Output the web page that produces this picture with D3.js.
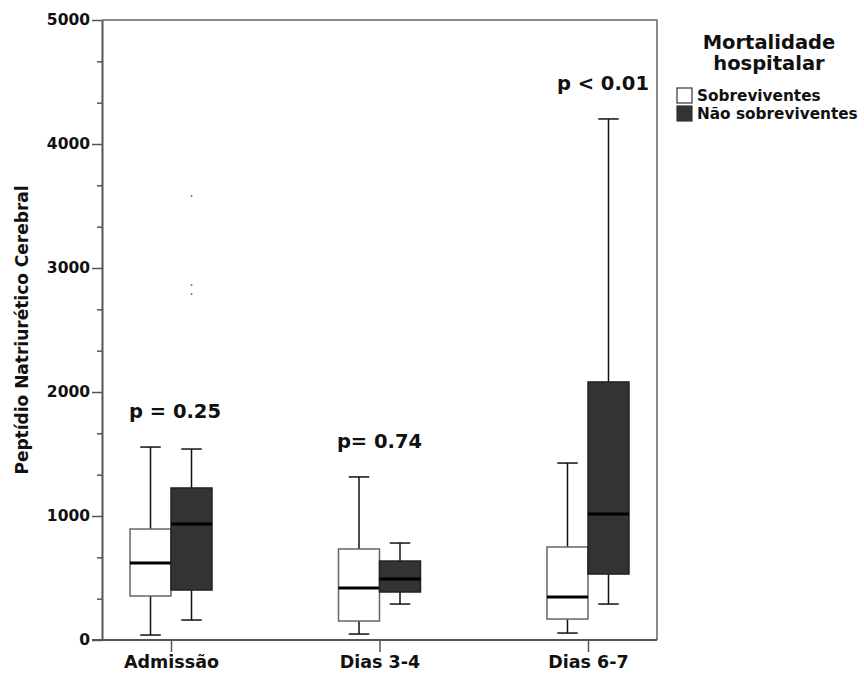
<!DOCTYPE html>
<html>
<head>
<meta charset="utf-8">
<script src="https://cdn.jsdelivr.net/npm/d3@7"></script>
<style>
    body { margin: 0; background: #fff; }
    svg text { font-family: "DejaVu Sans", sans-serif; font-weight: bold; fill: #111; }
</style>
</head>
<body>
<svg id="chart" width="864" height="674"></svg>
<script>
(function() {
"use strict";

// boxplot stats: [min whisker, Q1, median, Q3, max whisker]
var categories = ["Admissão", "Dias 3-4", "Dias 6-7"];
var groups = ["Sobreviventes", "Não sobreviventes"];
var survivors = [
    [40, 355, 621, 895, 1556],
    [48, 153, 419, 734, 1315],
    [56, 169, 347, 750, 1427]
];
var nonSurvivors = [
    [161, 403, 935, 1226, 1540],
    [290, 387, 492, 637, 782],
    [290, 532, 1016, 2081, 4202]
];
var outliers = [
    {category: "Admissão", group: 1, value: 3581},
    {category: "Admissão", group: 1, value: 2863},
    {category: "Admissão", group: 1, value: 2790}
];
var pLabels = ["p = 0.25", "p= 0.74", "p < 0.01"];
var yMajorTicks = [0, 1000, 2000, 3000, 4000, 5000];

var margin = {top: 20, left: 102, right: 657, bottom: 640};
var boxWidth = 41;
var fills = ["#ffffff", "#333333"];
var strokes = ["#666666", "#222222"];
var pShift = [4, 0, 15];

var svg = d3.select("#chart");

var y = d3.scaleLinear().domain([0, 5000]).range([margin.bottom, margin.top]);
var x = d3.scalePoint().domain(categories).range([margin.left, margin.right]).padding(0.331);

// frame (top and right)
svg.append("path")
       .attr("d", "M" + margin.left + "," + margin.top + "H" + margin.right + "V" + margin.bottom)
       .attr("fill", "none")
       .attr("stroke", "#666")
       .attr("stroke-width", 1.5);

// minor y ticks at thirds
var minorTicks = d3.range(0, 5001, 1000 / 3).filter(function(v) {
    return Math.abs(v / 1000 - Math.round(v / 1000)) > 0.01;
});
svg.append("g")
       .attr("transform", "translate(" + margin.left + ",0)")
       .call(d3.axisLeft(y).tickValues(minorTicks).tickSize(5).tickFormat(""))
       .call(function(g) { g.select(".domain").remove(); })
       .selectAll("line").attr("stroke", "#555").attr("stroke-width", 1.5);

var yAxis = svg.append("g")
       .attr("transform", "translate(" + margin.left + ",0)")
       .call(d3.axisLeft(y).tickValues(yMajorTicks).tickSize(10).tickSizeOuter(0).tickPadding(2).tickFormat(d3.format("d")));
yAxis.select(".domain").attr("stroke", "#555").attr("stroke-width", 2);
yAxis.selectAll("line").attr("stroke", "#555").attr("stroke-width", 1.5);
yAxis.selectAll("text").attr("font-size", 15.5).attr("fill", "#111");

var xAxis = svg.append("g")
       .attr("transform", "translate(0," + margin.bottom + ")")
       .call(d3.axisBottom(x).tickSize(12).tickSizeOuter(0).tickPadding(4));
xAxis.select(".domain").attr("d", "M" + (margin.left - 10) + ",0H" + margin.right)
       .attr("stroke", "#555").attr("stroke-width", 2);
xAxis.selectAll("line").attr("stroke", "#555").attr("stroke-width", 1.5);
xAxis.selectAll("text").attr("font-size", 17.5).attr("fill", "#111");

svg.append("text")
       .attr("transform", "translate(22," + y(2500) + ") rotate(-90)")
       .attr("text-anchor", "middle")
       .attr("dy", "0.35em")
       .attr("font-size", 17)
       .text("Peptídio Natriurético Cerebral");

// boxes
var boxData = [];
categories.forEach(function(c, i) {
    boxData.push({category: c, group: 0, stats: survivors[i]});
    boxData.push({category: c, group: 1, stats: nonSurvivors[i]});
});

var boxX = function(d) { return x(d.category) + (d.group === 0 ? -boxWidth : 0); };
var boxMid = function(d) { return boxX(d) + boxWidth / 2; };

var box = svg.selectAll(".box").data(boxData).enter()
               .append("g")
                   .attr("class", "box");

box.append("line")
       .attr("x1", boxMid).attr("x2", boxMid)
       .attr("y1", function(d) { return y(d.stats[0]); })
       .attr("y2", function(d) { return y(d.stats[4]); })
       .attr("stroke", "#111").attr("stroke-width", 1.5);

[0, 4].forEach(function(k) {
    box.append("line")
           .attr("x1", function(d) { return boxMid(d) - boxWidth / 4; })
           .attr("x2", function(d) { return boxMid(d) + boxWidth / 4; })
           .attr("y1", function(d) { return y(d.stats[k]); })
           .attr("y2", function(d) { return y(d.stats[k]); })
           .attr("stroke", "#111").attr("stroke-width", 1.5);
});

box.append("rect")
       .attr("x", boxX)
       .attr("width", boxWidth)
       .attr("y", function(d) { return y(d.stats[3]); })
       .attr("height", function(d) { return y(d.stats[1]) - y(d.stats[3]); })
       .attr("fill", function(d) { return fills[d.group]; })
       .attr("stroke", function(d) { return strokes[d.group]; })
       .attr("stroke-width", 1.5);

box.append("line")
       .attr("x1", boxX)
       .attr("x2", function(d) { return boxX(d) + boxWidth; })
       .attr("y1", function(d) { return y(d.stats[2]); })
       .attr("y2", function(d) { return y(d.stats[2]); })
       .attr("stroke", "#000").attr("stroke-width", 3);

svg.selectAll(".outlier").data(outliers).enter()
       .append("circle")
           .attr("class", "outlier")
           .attr("cx", function(d) { return boxMid(d); })
           .attr("cy", function(d) { return y(d.value); })
           .attr("r", 1)
           .attr("fill", "#777");

// p-values above each category
svg.selectAll(".pval").data(pLabels).enter()
       .append("text")
           .attr("class", "pval")
           .attr("x", function(d, i) { return x(categories[i]) + pShift[i]; })
           .attr("y", function(d, i) { return y(Math.max(survivors[i][4], nonSurvivors[i][4])) - 36; })
           .attr("dy", "0.35em")
           .attr("text-anchor", "middle")
           .attr("font-size", 19.5)
           .text(function(d) { return d; });

// legend
var legend = svg.append("g").attr("class", "legend");
legend.append("text")
          .attr("x", 769).attr("y", 42).attr("dy", "0.35em")
          .attr("text-anchor", "middle").attr("font-size", 19.5)
          .text("Mortalidade");
legend.append("text")
          .attr("x", 769).attr("y", 63).attr("dy", "0.35em")
          .attr("text-anchor", "middle").attr("font-size", 19.5)
          .text("hospitalar");

var item = legend.selectAll(".legend-item").data(groups).enter()
                     .append("g")
                         .attr("class", "legend-item")
                         .attr("transform", function(d, i) { return "translate(677," + (88 + i * 18) + ")"; });
item.append("rect")
        .attr("width", 15).attr("height", 15)
        .attr("fill", function(d, i) { return fills[i]; })
        .attr("stroke", "#333").attr("stroke-width", 1.2);
item.append("text")
        .attr("x", 20).attr("y", 8).attr("dy", "0.35em")
        .attr("font-size", 15.3)
        .text(function(d) { return d; });

}());
</script>
</body>
</html>
